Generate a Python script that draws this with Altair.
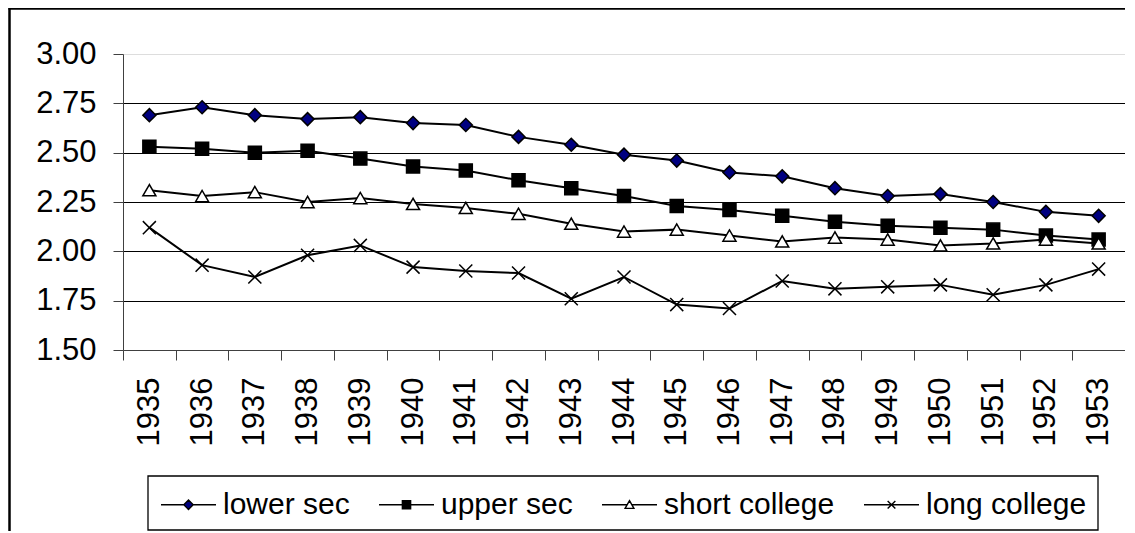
import altair as alt
import pandas as pd

years = [str(y) for y in range(1935, 1954)]
series = ["lower sec", "upper sec", "short college", "long college"]

lower_sec = [2.69, 2.73, 2.69, 2.67, 2.68, 2.65, 2.64, 2.58, 2.54, 2.49,
             2.46, 2.40, 2.38, 2.32, 2.28, 2.29, 2.25, 2.20, 2.18]
upper_sec = [2.53, 2.52, 2.50, 2.51, 2.47, 2.43, 2.41, 2.36, 2.32, 2.28,
             2.23, 2.21, 2.18, 2.15, 2.13, 2.12, 2.11, 2.08, 2.06]
short_college = [2.31, 2.28, 2.30, 2.25, 2.27, 2.24, 2.22, 2.19, 2.14, 2.10,
                 2.11, 2.08, 2.05, 2.07, 2.06, 2.03, 2.04, 2.06, 2.04]
long_college = [2.12, 1.93, 1.87, 1.98, 2.03, 1.92, 1.90, 1.89, 1.76, 1.87,
                1.73, 1.71, 1.85, 1.81, 1.82, 1.83, 1.78, 1.83, 1.91]

y_ticks = [1.50, 1.75, 2.00, 2.25, 2.50, 2.75, 3.00]

values = {"lower sec": lower_sec, "upper sec": upper_sec,
          "short college": short_college, "long college": long_college}
rows = []
for s in series:
    for yr, v in zip(years, values[s]):
        rows.append({"year": yr, "series": s, "value": v})
df = pd.DataFrame(rows)

FONT = "Liberation Sans"
FS = 31

x_enc = alt.X("year:O", sort=years,
              scale=alt.Scale(type="band", paddingInner=0, paddingOuter=0),
              axis=alt.Axis(title=None, labelAngle=-90, labelFontSize=FS, labelFont=FONT,
                            labelColor="black", labelPadding=17, tickSize=10,
                            tickColor="#404040", domainColor="#404040", tickBand="extent",
                            grid=False))
y_enc = alt.Y("value:Q",
              scale=alt.Scale(domain=[1.5, 3.0], nice=False, zero=False),
              axis=alt.Axis(title=None, values=y_ticks, format=".2f", labelFontSize=FS,
                            labelFont=FONT, labelColor="black", labelPadding=17, tickSize=10,
                            tickColor="#404040", domainColor="#404040",
                            grid=True, gridColor="black", gridWidth=1,
                            gridOpacity={"condition": {"test": "datum.value >= 2.99 || datum.value <= 1.51", "value": 0}, "value": 1}))

base = alt.Chart(df)

lines = base.mark_line(color="black", strokeWidth=2).encode(
    x=x_enc, y=y_enc, detail="series:N")

plot_shapes = ["diamond", "square", "triangle-up", "M-1,-1L1,1M-1,1L1,-1"]
fills = ["#000080", "black", "white", "transparent"]
strokes = ["black", "black", "black", "black"]

points = base.mark_point(stroke="black", strokeWidth=1.5, opacity=1, size=170).encode(
    x=x_enc, y=y_enc,
    shape=alt.Shape("series:N", scale=alt.Scale(domain=series, range=plot_shapes), legend=None),
    fill=alt.Fill("series:N", scale=alt.Scale(domain=series, range=fills), legend=None),
)

legend_shapes = [
    "M-1,0L-0.17,0M0.17,0L1,0M0,-0.17L0.17,0L0,0.17L-0.17,0Z",
    "M-1,0L-0.15,0M0.15,0L1,0M-0.15,-0.15L0.15,-0.15L0.15,0.15L-0.15,0.15Z",
    "M-1,0L-0.1,0M0.1,0L1,0M0,-0.15L0.16,0.13L-0.16,0.13Z",
    "M-1,0L1,0M-0.14,-0.14L0.14,0.14M-0.14,0.14L0.14,-0.14",
]


def leg():
    return alt.Legend(title=None, orient="none", legendX=37, legendY=422,
                      direction="horizontal", symbolSize=3025,
                      labelFontSize=30, labelFont=FONT, labelColor="black",
                      labelOffset=6, columnPadding=26, labelLimit=500,
                      symbolStrokeColor="black", symbolStrokeWidth=1.4,
                      padding=0, symbolOpacity=1)


legend_layer = base.transform_filter("false").mark_point(
    stroke="black", strokeWidth=1.4, opacity=1).encode(
    x=x_enc, y=y_enc,
    shape=alt.Shape("series:N", scale=alt.Scale(domain=series, range=legend_shapes), legend=leg()),
    fill=alt.Fill("series:N", scale=alt.Scale(domain=series, range=fills), legend=leg()),
    stroke=alt.Stroke("series:N", scale=alt.Scale(domain=series, range=strokes), legend=leg()),
)

one = pd.DataFrame({"a": [0]})
frame_top = alt.Chart(one).mark_rule(color="black", strokeWidth=2.5).encode(
    x=alt.value(-114.5), x2=alt.value(1100), y=alt.value(-45.5))
frame_left = alt.Chart(one).mark_rule(color="black", strokeWidth=2.5).encode(
    x=alt.value(-113.5), y=alt.value(-46.5), y2=alt.value(700))

legend_box = alt.Chart(one).mark_rect(
    fill="white", stroke="black", strokeWidth=1.3).encode(
    x=alt.value(25), x2=alt.value(975), y=alt.value(422), y2=alt.value(476))

chart = alt.layer(frame_top, frame_left, legend_box, lines, points, legend_layer).resolve_scale(
    shape="independent", fill="independent", stroke="independent"
).properties(
    width=1002, height=296,
    autosize=alt.AutoSizeParams(type="none"),
    padding={"left": 115, "top": 46, "right": 0, "bottom": 181},
).configure_view(stroke="#8c8c8c", strokeWidth=1.5).configure(background="white")

chart.save("out.html", embed_options={"renderer": "svg", "actions": False})
